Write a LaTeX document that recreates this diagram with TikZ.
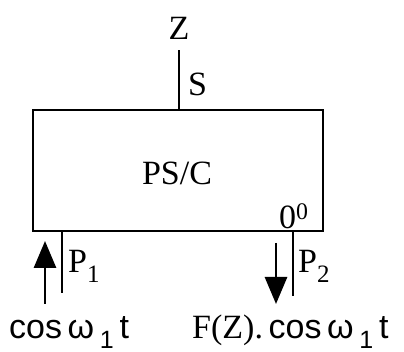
\documentclass[tikz,border=0pt]{standalone}
\usepackage{fontspec}
\setmainfont{Liberation Serif}
\newfontfamily\cosfont{Liberation Sans}
\usetikzlibrary{arrows.meta,positioning}

\newcommand{\lowsub}[1]{\raisebox{-10pt}{\fontsize{25}{25}\selectfont #1}}
\newcommand{\cosw}{{\cosfont cos\,ω\,\lowsub{1}\,t}}

\begin{document}
\begin{tikzpicture}[
    x=1pt, y=-1pt,
    font=\fontsize{34}{36}\selectfont,
    block/.style={draw, line width=1.8pt, minimum width=290pt, minimum height=121pt, inner sep=0pt},
    port/.style={line width=1.8pt},
    flow/.style={line width=2.8pt, -{Triangle[width=22pt, length=27pt]}},
    lbl/.style={inner sep=0pt},
    sig/.style={inner sep=0pt, font=\fontsize{34}{36}\selectfont},
]
    \useasboundingbox (0,0) rectangle (404,352);

    % the block
    \node[block] (psc) at (178,170.5) {};
    \node[lbl, anchor=base] (name) at (177,185) {PS/C};
    \node[lbl, anchor=base west] (phase) at (279,229) {0\textsuperscript{0}};

    % port S on top
    \coordinate (stop) at (179,50);
    \draw[port] (psc.north -| stop) -- (stop);
    \node[lbl, anchor=base] (z) at (179,40) {Z};
    \node[lbl, anchor=base west] (s) at (188,96) {S};

    % ports P1 and P2 below
    \coordinate (p1end) at (62,293);
    \coordinate (p2end) at (293,296);
    \draw[port] (psc.south -| p1end) -- (p1end);
    \draw[port] (psc.south -| p2end) -- (p2end);
    \node[lbl, anchor=base west] (p1) at (68,273) {P\lowsub{1}};
    \node[lbl, anchor=base west] (p2) at (298,273) {P\lowsub{2}};

    % signal in and out
    \coordinate (in1s) at (45,304);
    \coordinate (in1e) at (45,241);
    \coordinate (out2s) at (276,243);
    \coordinate (out2e) at (276,304);
    \draw[flow] (in1s) -- (in1e);
    \draw[flow] (out2s) -- (out2e);
    \node[sig, anchor=base west] (sigin) at (9,338) {\cosw};
    \node[sig, anchor=base west] (sigout) at (192,338) {F(Z).\,\cosw};
\end{tikzpicture}
\end{document}
